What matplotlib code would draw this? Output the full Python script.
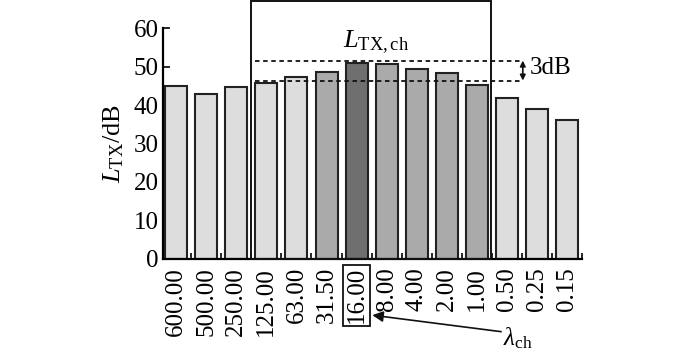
import numpy as np
import matplotlib
matplotlib.use("Agg")
import matplotlib.pyplot as plt
from matplotlib.patches import Rectangle

plt.rcParams['font.family'] = ['Liberation Serif', 'DejaVu Serif']
plt.rcParams['mathtext.fontset'] = 'custom'
plt.rcParams['mathtext.rm'] = 'Liberation Serif'
plt.rcParams['mathtext.it'] = 'Liberation Serif:italic'

# wavelength bands (tick labels) and levels
labels = ['600.00', '500.00', '250.00', '125.00', '63.00', '31.50', '16.00',
          '8.00', '4.00', '2.00', '1.00', '0.50', '0.25', '0.15']
levels = [45.0, 43.0, 44.8, 45.8, 47.3, 48.6, 51.1, 50.6, 49.3, 48.4, 45.3,
          41.9, 39.1, 36.1]
shade = ['light'] * 5 + ['mid', 'dark', 'mid', 'mid', 'mid', 'mid'] + ['light'] * 3
band_top = 51.6
band_bottom = 46.4
ch_index = 6

colors = {'light': '#dddddd', 'mid': '#aaaaaa', 'dark': '#6f6f6f'}

fig = plt.figure(figsize=(7, 3.52), dpi=100)
ax = fig.add_axes([0.233, 0.265, 0.599, 0.6545])

x = np.arange(len(labels))
ax.bar(x, levels, width=0.73, color=[colors[s] for s in shade],
       edgecolor='#222222', linewidth=1.5, zorder=2)

ax.set_xlim(-0.43, 13.49)
ax.set_ylim(0, 60)
ax.set_yticks(np.arange(0, 61, 10))
ax.set_xticks(x)
ax.set_xticklabels(labels, rotation=90, fontsize=18)
ax.set_xticks(np.arange(0.5, 13.6, 1), minor=True)
ax.tick_params(axis='x', which='major', length=0, pad=6)
ax.tick_params(axis='x', which='minor', direction='in', length=4, width=1.2)
ax.tick_params(axis='y', direction='in', length=5, width=1.2, labelsize=18, pad=3)
for s in ['top', 'right']:
    ax.spines[s].set_visible(False)
for s in ['left', 'bottom']:
    ax.spines[s].set_linewidth(1.6)

ax.set_ylabel(r'$L_{\rm TX}$/dB', fontsize=19, labelpad=6)

# channel box
ax.add_patch(Rectangle((2.5, 0), 7.95, 67.2, fill=False, edgecolor='#111111',
                       linewidth=1.4, clip_on=False, zorder=3))

# 3 dB band
for yv in [band_top, band_bottom]:
    ax.plot([2.62, 11.45], [yv, yv], color='#111111', linewidth=1.3,
            linestyle=(0, (2.5, 2)), clip_on=False, zorder=3)
ax.annotate('', xy=(11.52, band_top), xytext=(11.52, band_bottom),
            arrowprops=dict(arrowstyle='<|-|>', color='#111111', lw=1.2,
                            mutation_scale=8, shrinkA=0, shrinkB=0),
            annotation_clip=False)
ax.text(11.75, 49.6, '3dB', fontsize=18, va='center', ha='left')

ax.text(6.65, 54.9, r'$L_{\rm TX,ch}$', fontsize=19, ha='center', va='baseline')

# box around the channel tick label
lab = ax.get_xticklabels()[ch_index]
lab.set_bbox(dict(boxstyle='square,pad=0.1', facecolor='none',
                  edgecolor='#111111', linewidth=1.3))

ax.annotate('', xy=(6.52, -14.7), xytext=(10.8, -19.0),
            arrowprops=dict(arrowstyle='-|>', color='#111111', lw=1.2,
                            mutation_scale=16, shrinkA=0, shrinkB=0),
            annotation_clip=False)
ax.text(11.35, -20.8, r'$\lambda_{\rm ch}$', fontsize=18, ha='center', va='center')

fig.savefig('out.png', dpi=100)
